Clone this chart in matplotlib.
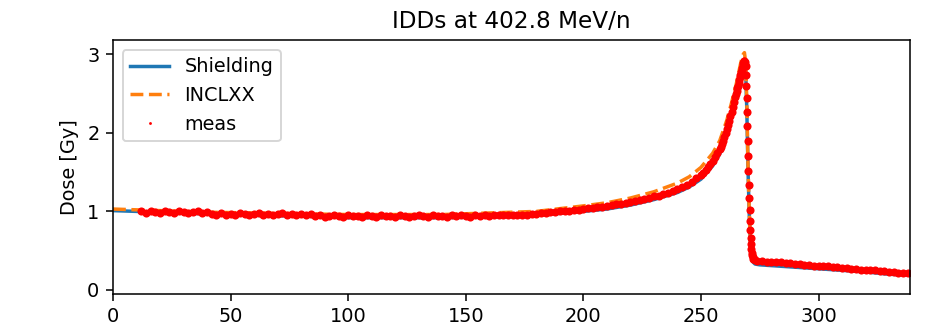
import numpy as np
import matplotlib.pyplot as plt

######### DEPTH DOSE DATA ##############

## SIMULATION GRID [mm]
sim_depth = [0, 10, 20, 40, 60, 80, 100, 120, 140, 160,
             180, 200, 210, 220, 230, 240, 245, 250, 255, 258,
             261, 263, 265, 266, 267, 268, 268.5, 269, 269.5, 270,
             270.5, 271, 271.5, 272, 273, 275, 280, 290, 300, 310,
             320, 330, 339]

## SHIELDING DOSE [Gy]
shielding_dose = [1.01, 1.00, 0.98, 0.97, 0.95, 0.94, 0.92, 0.92, 0.92, 0.93,
                  0.95, 1.00, 1.03, 1.08, 1.15, 1.24, 1.31, 1.41, 1.58, 1.73,
                  1.98, 2.18, 2.43, 2.56, 2.70, 2.83, 2.87, 2.80, 2.30, 1.55,
                  1.00, 0.60, 0.44, 0.36, 0.33, 0.32, 0.31, 0.29, 0.27, 0.25,
                  0.23, 0.20, 0.19]

## INCLXX DOSE [Gy]
inclxx_dose = [1.03, 1.02, 1.01, 0.99, 0.98, 0.97, 0.96, 0.96, 0.96, 0.98,
               1.00, 1.07, 1.11, 1.17, 1.25, 1.36, 1.44, 1.56, 1.74, 1.90,
               2.16, 2.38, 2.62, 2.76, 2.90, 3.00, 3.02, 2.90, 2.40, 1.60,
               1.05, 0.62, 0.46, 0.39, 0.36, 0.35, 0.34, 0.31, 0.29, 0.27,
               0.25, 0.22, 0.20]

## MEASUREMENT - PLATEAU AND ENTRANCE (2 mm steps)
plateau_depth = list(range(12, 252, 2))
plateau_dose = [1.00, 0.98, 1.00, 0.99, 0.98, 1.00, 0.99, 0.98, 1.00, 0.99,
                0.98, 0.99, 1.00, 0.98, 0.99,
                0.97, 0.96, 0.98, 0.96, 0.97, 0.96, 0.98, 0.97, 0.96, 0.97,
                0.98, 0.96, 0.97, 0.96, 0.97, 0.98, 0.96, 0.97, 0.96, 0.97,
                0.96, 0.97,
                0.94, 0.95, 0.93, 0.94, 0.95, 0.94, 0.93, 0.95, 0.94, 0.94,
                0.93, 0.95, 0.94, 0.93, 0.95, 0.94, 0.94, 0.93, 0.95, 0.94,
                0.93, 0.94, 0.95, 0.94, 0.93, 0.95, 0.94, 0.94, 0.93, 0.95,
                0.94, 0.95, 0.94, 0.93, 0.95, 0.94, 0.95, 0.94, 0.95, 0.96,
                0.95, 0.96, 0.95,
                0.95, 0.96, 0.96, 0.97, 0.97, 0.98, 0.98, 0.99, 0.99, 1.00,
                1.00, 1.01, 1.02, 1.02, 1.03, 1.04, 1.04, 1.05, 1.06, 1.07,
                1.08, 1.09, 1.10, 1.11, 1.12, 1.13, 1.15, 1.16, 1.17, 1.19,
                1.20, 1.22, 1.24, 1.26, 1.29, 1.31, 1.34, 1.38, 1.42, 1.46]

## MEASUREMENT - BRAGG PEAK
peak_depth = [251, 252, 253, 254, 255, 256, 257, 258, 258.5, 259,
              259.5, 260, 260.5, 261, 261.5, 262, 262.5, 263, 263.5, 264,
              264.5, 265, 265.25, 265.5, 265.75, 266, 266.25, 266.5, 266.75, 267,
              267.25, 267.5, 267.75, 268, 268.25, 268.5]
peak_dose = [1.49, 1.53, 1.56, 1.60, 1.64, 1.69, 1.74, 1.79, 1.82, 1.86,
             1.90, 1.95, 2.00, 2.05, 2.10, 2.15, 2.21, 2.27, 2.33, 2.39,
             2.45, 2.50, 2.53, 2.57, 2.60, 2.64, 2.67, 2.71, 2.74, 2.77,
             2.80, 2.83, 2.86, 2.89, 2.91, 2.92]

## MEASUREMENT - DISTAL FALL-OFF
fall_depth = [268.75, 269, 269.15, 269.3, 269.45, 269.6, 269.75, 269.9, 270.05, 270.2,
              270.35, 270.5, 270.65, 270.8, 270.95, 271.1, 271.25, 271.4, 271.6, 271.8,
              272, 272.3, 272.6, 273]
fall_dose = [2.90, 2.85, 2.74, 2.60, 2.44, 2.27, 2.09, 1.90, 1.71, 1.52,
             1.34, 1.17, 1.02, 0.88, 0.76, 0.66, 0.58, 0.52, 0.47, 0.44,
             0.42, 0.40, 0.39, 0.38]

## MEASUREMENT - FRAGMENT TAIL (2 mm steps)
tail_depth = list(range(274, 340, 2))
tail_dose = [0.37, 0.37, 0.36, 0.36, 0.35, 0.35, 0.34, 0.34, 0.33, 0.33,
             0.32, 0.32, 0.31, 0.31, 0.30, 0.30, 0.29, 0.29, 0.28, 0.28,
             0.27, 0.27, 0.26, 0.26, 0.25, 0.25, 0.24, 0.24, 0.23, 0.23,
             0.22, 0.22, 0.21]

meas_depth = np.array(plateau_depth + peak_depth + fall_depth + tail_depth)
meas_dose = np.array(plateau_dose + peak_dose + fall_dose + tail_dose)
assert len(meas_depth) == len(meas_dose)
########################################


############## PLOTTING ####################
fig = plt.figure(figsize=(926 / 139, 334 / 139), dpi=139)
ax = fig.add_axes([0.122, 0.120, 0.861, 0.760])

ax.plot(sim_depth, shielding_dose, lw=1.8, label='Shielding')
ax.plot(sim_depth, inclxx_dose, '--', lw=1.8, label='INCLXX')
ax.plot(meas_depth, meas_dose, 'o', color='r', ms=4.2, mew=0, label='meas')

ax.set_xlim(0, 339)
ax.set_ylim(-0.05, 3.18)
ax.set_xticks([0, 50, 100, 150, 200, 250, 300])
ax.set_yticks([0, 1, 2, 3])
ax.set_ylabel('Dose [Gy]')
ax.set_title('IDDs at 402.8 MeV/n')
ax.legend(loc='upper left', markerscale=0.35)

plt.savefig('out.png', dpi=139)
############################################
